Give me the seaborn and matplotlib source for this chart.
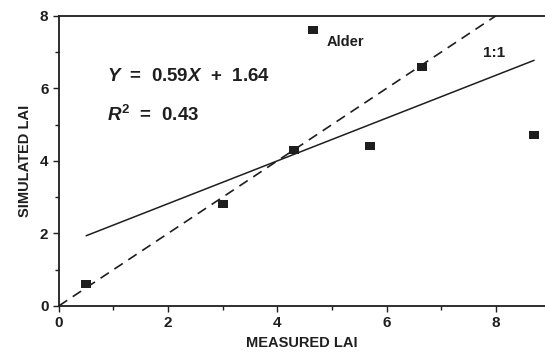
import matplotlib
matplotlib.use("Agg")
import matplotlib.pyplot as plt
import seaborn as sns
import pandas as pd
import numpy as np

# measured vs simulated LAI
measured = [0.5, 3.0, 4.3, 4.65, 5.7, 6.65, 8.7]
simulated = [0.6, 2.8, 4.3, 7.6, 4.4, 6.6, 4.7]
slope = 0.59
intercept = 1.64
x_ticks = [0, 2, 4, 6, 8]
y_ticks = [0, 2, 4, 6, 8]

df = pd.DataFrame({"measured": measured, "simulated": simulated})

sns.set_style("ticks")
plt.rcParams['font.family'] = ['Liberation Sans', 'DejaVu Sans']
plt.rcParams['mathtext.fontset'] = 'custom'
plt.rcParams['mathtext.rm'] = 'Liberation Sans:bold'
plt.rcParams['mathtext.it'] = 'Liberation Sans:italic:bold'
plt.rcParams['mathtext.bf'] = 'Liberation Sans:bold'
ink = "#1e1e1e"

fig = plt.figure(figsize=(5.45, 3.52), dpi=100)
ax = fig.add_axes([0.108, 0.131, 0.892, 0.824])

# 1:1 line
ax.plot([0, 8], [0, 8], ls=(0, (6, 4)), color=ink, lw=1.2)
# regression line
xr = np.array([min(measured), max(measured)])
ax.plot(xr, slope * xr + intercept, color=ink, lw=1.1)

rect = [(-1.4, -1), (1.4, -1), (1.4, 1), (-1.4, 1), (-1.4, -1)]
sns.scatterplot(data=df, x="measured", y="simulated", marker=rect, s=50,
                color=ink, edgecolor=ink, linewidth=0, ax=ax, zorder=3)

ax.set_xlim(0, 8.9)
ax.set_ylim(0, 8)
ax.set_xticks(x_ticks)
ax.set_yticks(y_ticks)
ax.set_xticks([1, 3, 5, 7], minor=True)
ax.set_yticks([1, 3, 5, 7], minor=True)
ax.tick_params(which="major", length=4, width=1, colors=ink, labelsize=11)
ax.tick_params(which="minor", length=3, width=1, colors=ink)
for lab in ax.get_xticklabels() + ax.get_yticklabels():
    lab.set_fontweight("bold")

ax.spines["right"].set_visible(False)
for s in ["left", "bottom", "top"]:
    ax.spines[s].set_linewidth(1.3)
    ax.spines[s].set_color(ink)

ax.set_xlabel("MEASURED LAI", fontweight="bold", fontsize=10.5, color=ink, labelpad=4)
ax.set_ylabel("SIMULATED LAI", fontweight="bold", fontsize=10.5, color=ink, labelpad=6)

ax.text(0.88, 6.33, r"$\mathit{Y}$  =  0.59$\mathit{X}$  +  1.64",
        fontsize=13.5, fontweight="bold", color=ink, va="center")
ax.text(0.88, 5.28, r"$\mathit{R}^{2}$  =  0.43",
        fontsize=13.5, fontweight="bold", color=ink, va="center")
ax.text(4.9, 7.27, "Alder", fontsize=10.5, fontweight="bold", color=ink, va="center")
ax.text(7.77, 6.97, "1:1", fontsize=11, fontweight="bold", color=ink, va="center")

fig.savefig("out.png", dpi=100)
